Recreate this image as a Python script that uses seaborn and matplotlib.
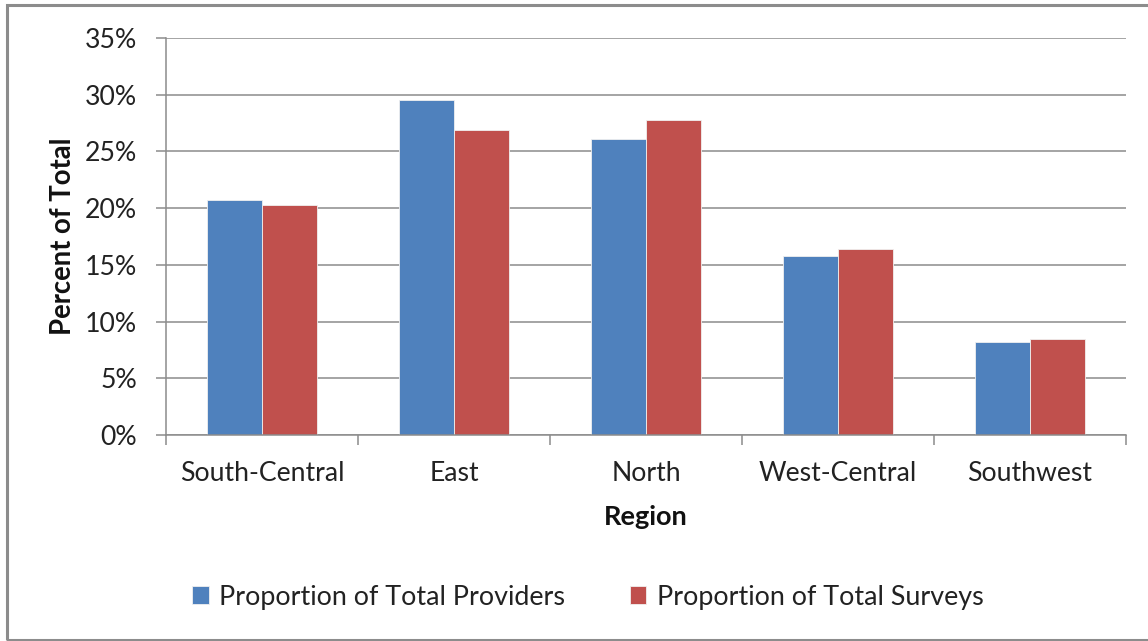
import pandas as pd
import numpy as np
import matplotlib
matplotlib.use("Agg")
import matplotlib.pyplot as plt
import seaborn as sns
from matplotlib.ticker import PercentFormatter, FixedLocator
from matplotlib.patches import Rectangle

regions = ["South-Central", "East", "North", "West-Central", "Southwest"]
providers = [0.207, 0.295, 0.261, 0.158, 0.082]
surveys = [0.203, 0.269, 0.278, 0.164, 0.085]
series_names = ["Proportion of Total Providers", "Proportion of Total Surveys"]
colors = ["#4F81BD", "#C0504D"]

df = pd.DataFrame({
    "Region": regions * 2,
    "value": providers + surveys,
    "series": [series_names[0]] * len(regions) + [series_names[1]] * len(regions),
})

sns.set_style("white")
plt.rcParams["font.family"] = ["Lato", "DejaVu Sans"]

fig = plt.figure(figsize=(11.48, 6.41), dpi=100)
ax = fig.add_axes([166 / 1148, 1 - 435 / 641, 960 / 1148, 397 / 641])

sns.barplot(data=df, x="Region", y="value", hue="series", palette=colors,
            saturation=1, width=0.573, gap=0, edgecolor="#f0f0f0", linewidth=0.6,
            ax=ax, legend=True)

ax.set_ylim(0, 0.35)
ax.set_xlim(-0.5, len(regions) - 0.5)
ax.yaxis.set_major_locator(FixedLocator(np.arange(0, 0.351, 0.05)))
ax.yaxis.set_major_formatter(PercentFormatter(1.0, decimals=0))
ax.grid(axis="y", color="#8c8c8c", linewidth=1.1)
ax.set_axisbelow(True)

for s in ["top", "right"]:
    ax.spines[s].set_visible(False)
for s in ["left", "bottom"]:
    ax.spines[s].set_color("#8c8c8c")
    ax.spines[s].set_linewidth(1.1)

fs = 19.2
ax.tick_params(axis="y", left=True, length=7, width=1.1, color="#8c8c8c",
               pad=14, labelsize=fs, labelcolor="#222222")
ax.tick_params(axis="x", which="major", bottom=False, length=0, pad=19,
               labelsize=fs, labelcolor="#222222")
ax.set_xticks(np.arange(-0.5, len(regions)), minor=True)
ax.tick_params(axis="x", which="minor", bottom=True, length=7, width=1.1,
               color="#8c8c8c")

ax.set_xlabel("Region", fontsize=19.5, fontweight="bold", color="#111111")
ax.set_ylabel("Percent of Total", fontsize=19.8, fontweight="bold", color="#111111")
ax.xaxis.set_label_coords(0.5, -0.207)
ax.xaxis.label.set_va("center")
ax.yaxis.set_label_coords(-0.107, 0.5)
ax.yaxis.label.set_va("center")

handles, labels = ax.get_legend_handles_labels()
ax.get_legend().remove()
fig.legend(handles, labels, loc="center", bbox_to_anchor=(588 / 1148, 1 - 597 / 641),
           ncol=2, frameon=False, fontsize=19.4, handlelength=0.6, handleheight=0.6,
           handletextpad=0.4, columnspacing=2.4, labelcolor="#222222")

fig.patches.append(Rectangle((7 / 1148, 1 / 641), 1.2, 1 - 6 / 641,
                             transform=fig.transFigure, fill=False,
                             edgecolor="#8c8c8c", linewidth=2.2))

fig.savefig("out.png", dpi=100)
